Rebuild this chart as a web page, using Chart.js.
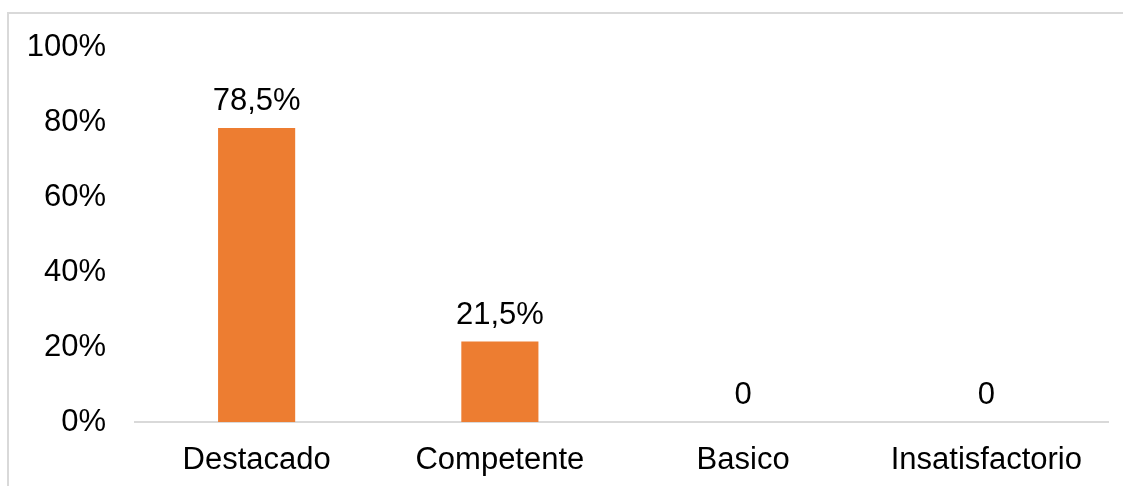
<!DOCTYPE html>
<html lang="es">
<head>
<meta charset="utf-8">
<title>Niveles de logro</title>
<script src="https://cdn.jsdelivr.net/npm/chart.js@4/dist/chart.umd.min.js"></script>
<style>
  html, body { margin: 0; padding: 0; background: #fff; overflow: hidden; }
  body { width: 1123px; height: 486px; position: relative; }
  /* chart frame: only its top and left edges fall inside the view */
  .frame {
    position: absolute; left: 7px; top: 12px;
    width: 1116px; height: 474px;
    border-top: 2px solid #d9d9d9; border-left: 2px solid #d9d9d9;
    box-sizing: border-box;
  }
  .wrap { position: absolute; left: 0; top: 0; width: 1123px; height: 486px; }
</style>
</head>
<body>
<div class="frame"></div>
<div class="wrap"><canvas id="chart"></canvas></div>
<script>
const categories = ["Destacado", "Competente", "Basico", "Insatisfactorio"];
const percentages = [78.5, 21.5, 0, 0];
const yTicks = [0, 20, 40, 60, 80, 100];

const FONT = '"Liberation Sans", Arial, sans-serif';
const BAR = "#ED7D31";

const valueText = (v) => (v === 0 ? "0" : v.toFixed(1).replace(".", ",") + "%");

// value labels sitting above each bar
const barLabels = {
  id: "barLabels",
  afterDatasetsDraw(chart) {
    const { ctx } = chart;
    const meta = chart.getDatasetMeta(0);
    ctx.save();
    ctx.font = `31px ${FONT}`;
    ctx.fillStyle = "#000";
    ctx.textAlign = "center";
    ctx.textBaseline = "alphabetic";
    meta.data.forEach((bar, i) => {
      ctx.fillText(valueText(percentages[i]), bar.x, bar.y - 18);
    });
    ctx.restore();
  }
};

new Chart(document.getElementById("chart"), {
  type: "bar",
  data: {
    labels: categories,
    datasets: [{
      data: percentages,
      backgroundColor: BAR,
      borderWidth: 0,
      categoryPercentage: 1,
      barPercentage: 0.317
    }]
  },
  options: {
    responsive: true,
    maintainAspectRatio: false,
    animation: false,
    layout: { padding: { top: 46, right: 15, left: 0, bottom: 0 } },
    plugins: { legend: { display: false }, tooltip: { enabled: false } },
    scales: {
      x: {
        grid: { display: false, drawTicks: false },
        border: { display: true, color: "#d9d9d9", width: 2 },
        ticks: { color: "#000", font: { family: FONT, size: 31 }, padding: 20, maxRotation: 0 },
        afterFit: (s) => { s.height = 64; }
      },
      y: {
        min: 0,
        max: 100,
        afterBuildTicks: (s) => { s.ticks = yTicks.map((v) => ({ value: v })); },
        grid: { display: false, drawTicks: false },
        border: { display: false },
        ticks: {
          color: "#000",
          font: { family: FONT, size: 31 },
          padding: 29,
          callback: (v) => v + "%"
        },
        afterFit: (s) => { s.width = 135; }
      }
    }
  },
  plugins: [barLabels]
});
</script>
</body>
</html>
